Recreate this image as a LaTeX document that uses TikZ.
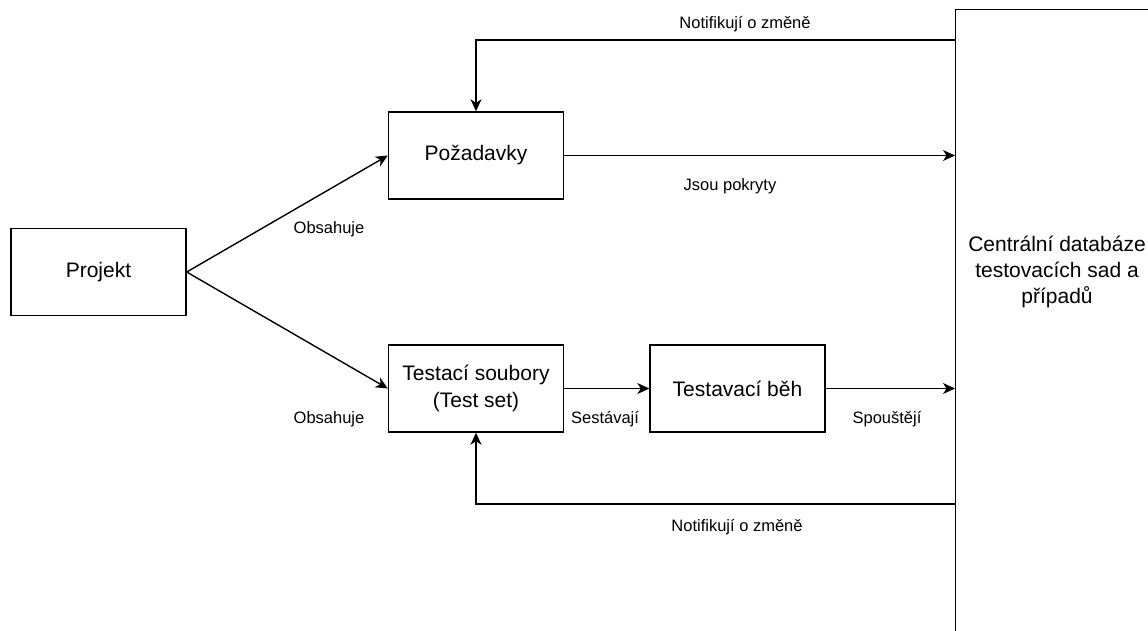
\documentclass[tikz,border=0pt]{standalone}
\usepackage{fontspec}
\setmainfont{Liberation Sans}
\usetikzlibrary{arrows.meta}
\begin{document}
\begin{tikzpicture}[x=1pt,y=-1pt,
 box/.style={draw, line width=1.4pt, minimum width=175pt, minimum height=87pt, font=\fontsize{21}{27}\selectfont, align=center, inner sep=0pt},
 arr/.style={-{Stealth[length=12pt,width=11pt,inset=3.5pt]}, line width=1.4pt},
 lbl/.style={font=\fontsize{16.5}{20}\selectfont, inner sep=0pt}]
\useasboundingbox (0,0) rectangle (1148,630);
\clip (0,0) rectangle (1148,630);
\node[box] (proj) at (98.5,272) {Projekt};
\node[box] (poz) at (476,155.5) {Požadavky};
\node[box] (ts) at (476,388.5) {Testací soubory\\(Test set)};
\node[box] (tb) at (737.5,388.5) {Testavací běh};
\node[draw, line width=1.4pt, minimum width=210pt, minimum height=640pt, anchor=north west, inner sep=0pt] (db) at (955,9) {};
\node[font=\fontsize{21}{26}\selectfont, align=center, inner sep=0pt] (dbt) at (1057,272) {Centrální databáze\\testovacích sad a\\případů};
\coordinate (tn) at (0,40);
\coordinate (bn) at (0,504);
\draw[arr] (proj.east) -- (poz.west);
\draw[arr] (proj.east) -- (ts.west);
\draw[arr] (poz.east) -- (poz.east -| db.west);
\draw[arr] (ts.east) -- (tb.west);
\draw[arr] (tb.east) -- (tb.east -| db.west);
\draw[arr] (db.west |- tn) -| (poz.north);
\draw[arr] (db.west |- bn) -| (ts.south);
\node[lbl] (l1) at (745,24) {Notifikují o změně};
\node[lbl] (l2) at (730,186) {Jsou pokryty};
\node[lbl] (l3) at (329,229) {Obsahuje};
\node[lbl] (l4) at (329,419) {Obsahuje};
\node[lbl] (l5) at (605,419) {Sestávají};
\node[lbl] (l6) at (887,419) {Spouštějí};
\node[lbl] (l7) at (737,527) {Notifikují o změně};
\end{tikzpicture}
\end{document}
